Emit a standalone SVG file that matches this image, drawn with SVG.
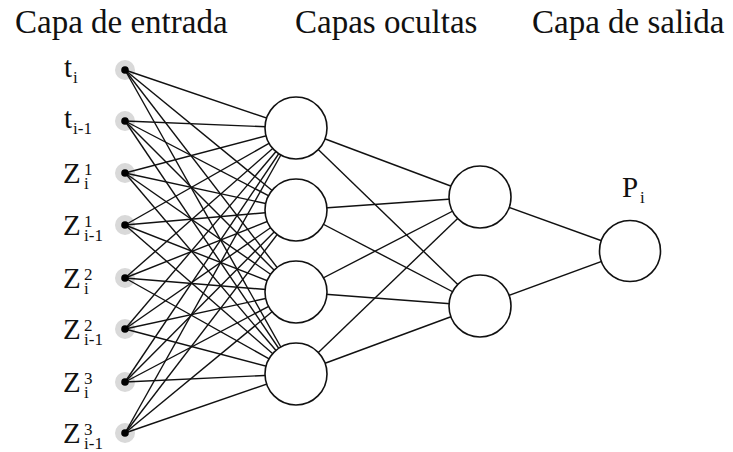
<svg xmlns="http://www.w3.org/2000/svg" width="733" height="452" viewBox="0 0 733 452">
<style>
text{font-family:"Liberation Serif","Times New Roman",serif;fill:#111}
.title{font-size:33px}
.lbl{font-size:29px}
.small{font-size:17px}
.conn line{stroke:#111;stroke-width:1.4}
.neuron{fill:#fff;stroke:#111;stroke-width:1.6}
.halo{fill:#d9d9d9}
.dot{fill:#000}
</style>
<rect width="733" height="452" fill="#fff"/>
<g id="titles">
<text class="title" x="15" y="33">Capa de entrada</text>
<text class="title" x="295" y="33">Capas ocultas</text>
<text class="title" x="532" y="33">Capa de salida</text>
</g>
<g id="halos">
<circle class="halo" cx="125" cy="70" r="10"/>
<circle class="halo" cx="125" cy="121" r="10"/>
<circle class="halo" cx="125" cy="173" r="10"/>
<circle class="halo" cx="125" cy="225" r="10"/>
<circle class="halo" cx="125" cy="278" r="10"/>
<circle class="halo" cx="125" cy="329" r="10"/>
<circle class="halo" cx="125" cy="382" r="10"/>
<circle class="halo" cx="125" cy="433" r="10"/>
</g>
<g id="connectors" class="conn">
<line x1="125" y1="70" x2="296" y2="128"/><line x1="125" y1="70" x2="296" y2="210"/><line x1="125" y1="70" x2="296" y2="292"/><line x1="125" y1="70" x2="296" y2="374"/>
<line x1="125" y1="121" x2="296" y2="128"/><line x1="125" y1="121" x2="296" y2="210"/><line x1="125" y1="121" x2="296" y2="292"/><line x1="125" y1="121" x2="296" y2="374"/>
<line x1="125" y1="173" x2="296" y2="128"/><line x1="125" y1="173" x2="296" y2="210"/><line x1="125" y1="173" x2="296" y2="292"/><line x1="125" y1="173" x2="296" y2="374"/>
<line x1="125" y1="225" x2="296" y2="128"/><line x1="125" y1="225" x2="296" y2="210"/><line x1="125" y1="225" x2="296" y2="292"/><line x1="125" y1="225" x2="296" y2="374"/>
<line x1="125" y1="278" x2="296" y2="128"/><line x1="125" y1="278" x2="296" y2="210"/><line x1="125" y1="278" x2="296" y2="292"/><line x1="125" y1="278" x2="296" y2="374"/>
<line x1="125" y1="329" x2="296" y2="128"/><line x1="125" y1="329" x2="296" y2="210"/><line x1="125" y1="329" x2="296" y2="292"/><line x1="125" y1="329" x2="296" y2="374"/>
<line x1="125" y1="382" x2="296" y2="128"/><line x1="125" y1="382" x2="296" y2="210"/><line x1="125" y1="382" x2="296" y2="292"/><line x1="125" y1="382" x2="296" y2="374"/>
<line x1="125" y1="433" x2="296" y2="128"/><line x1="125" y1="433" x2="296" y2="210"/><line x1="125" y1="433" x2="296" y2="292"/><line x1="125" y1="433" x2="296" y2="374"/>
<line x1="296" y1="128" x2="480" y2="197"/><line x1="296" y1="128" x2="480" y2="306"/>
<line x1="296" y1="210" x2="480" y2="197"/><line x1="296" y1="210" x2="480" y2="306"/>
<line x1="296" y1="292" x2="480" y2="197"/><line x1="296" y1="292" x2="480" y2="306"/>
<line x1="296" y1="374" x2="480" y2="197"/><line x1="296" y1="374" x2="480" y2="306"/>
<line x1="480" y1="197" x2="630" y2="251"/><line x1="480" y1="306" x2="630" y2="251"/>
</g>
<g id="in1"><circle class="dot" cx="125" cy="70" r="3.8"/><text class="lbl" x="64" y="77">t</text><text class="small" x="73" y="83">i</text></g>
<g id="in2"><circle class="dot" cx="125" cy="121" r="3.8"/><text class="lbl" x="64" y="128">t</text><text class="small" x="73" y="134">i-1</text></g>
<g id="in3"><circle class="dot" cx="125" cy="173" r="3.8"/><text class="lbl" x="63" y="183">Z</text><text class="small" x="84" y="175">1</text><text class="small" x="84" y="189">i</text></g>
<g id="in4"><circle class="dot" cx="125" cy="225" r="3.8"/><text class="lbl" x="63" y="235">Z</text><text class="small" x="84" y="227">1</text><text class="small" x="84" y="241">i-1</text></g>
<g id="in5"><circle class="dot" cx="125" cy="278" r="3.8"/><text class="lbl" x="63" y="288">Z</text><text class="small" x="84" y="280">2</text><text class="small" x="84" y="294">i</text></g>
<g id="in6"><circle class="dot" cx="125" cy="329" r="3.8"/><text class="lbl" x="63" y="339">Z</text><text class="small" x="84" y="331">2</text><text class="small" x="84" y="345">i-1</text></g>
<g id="in7"><circle class="dot" cx="125" cy="382" r="3.8"/><text class="lbl" x="63" y="392">Z</text><text class="small" x="84" y="384">3</text><text class="small" x="84" y="398">i</text></g>
<g id="in8"><circle class="dot" cx="125" cy="433" r="3.8"/><text class="lbl" x="63" y="443">Z</text><text class="small" x="84" y="435">3</text><text class="small" x="84" y="449">i-1</text></g>
<g id="h1"><circle class="neuron" cx="296" cy="128" r="31"/></g>
<g id="h2"><circle class="neuron" cx="296" cy="210" r="31"/></g>
<g id="h3"><circle class="neuron" cx="296" cy="292" r="31"/></g>
<g id="h4"><circle class="neuron" cx="296" cy="374" r="31"/></g>
<g id="h5"><circle class="neuron" cx="480" cy="197" r="31"/></g>
<g id="h6"><circle class="neuron" cx="480" cy="306" r="31"/></g>
<g id="out"><circle class="neuron" cx="630" cy="251" r="30.5"/><text class="lbl" x="622" y="197">P</text><text class="small" x="640" y="203">i</text></g>
</svg>
